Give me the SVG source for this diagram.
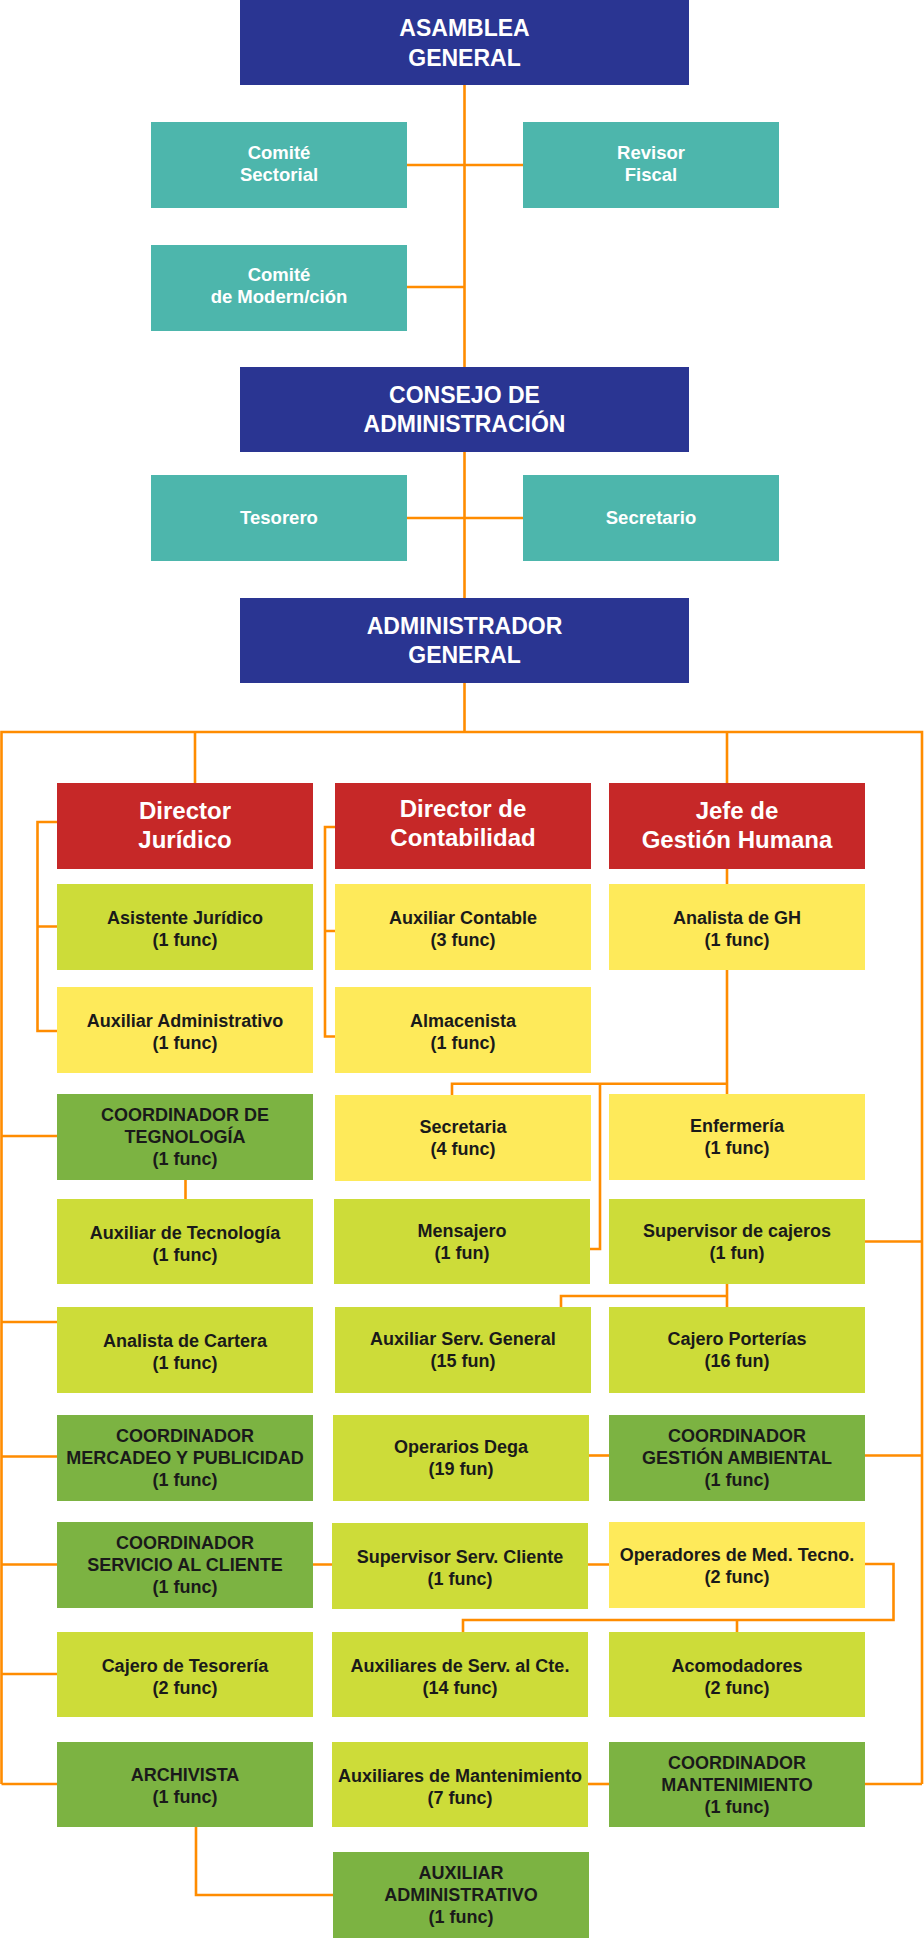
<svg xmlns="http://www.w3.org/2000/svg" width="924" height="1938" viewBox="0 0 924 1938">
<style>
text{font-family:"Liberation Sans",Arial,sans-serif;font-weight:bold;text-anchor:middle}
.navy{fill:#2A3592}
.teal{fill:#4DB6AC}
.red{fill:#C62828}
.lime{fill:#CDDC39}
.yel{fill:#FEEA5A}
.grn{fill:#7CB342}
.tn{fill:#fff;font-size:23px}
.tr{fill:#fff;font-size:24px}
.tt{fill:#fff;font-size:18.5px}
.ts{fill:#1a1a1a;font-size:18px}
.ln{fill:none;stroke:#FF8C00;stroke-width:2.6}
</style>
<rect width="924" height="1938" fill="#fff"/>
<g id="connectors" class="ln">
<path d="M464.5,85V732"/>
<path d="M407,165H523"/>
<path d="M407,287H464.5"/>
<path d="M407,518H523"/>
<path d="M1.5,1784V732H922V1784"/>
<path d="M195,732V783"/>
<path d="M727,732V783"/>
<path d="M57,822H37.5V1031H57M37.5,926.5H57"/>
<path d="M335,827H325V1036.5H335M325,931H335"/>
<path d="M727,869V884"/>
<path d="M727,970V1094"/>
<path d="M452,1095V1083.7H727"/>
<path d="M600,1083.7V1249H590"/>
<path d="M185.5,1180V1199"/>
<path d="M1.5,1136H57M1.5,1322H57M1.5,1456.5H57M1.5,1564.5H57M1.5,1674H57M1.5,1784H57"/>
<path d="M865,1241.5H922M865,1455.5H922M865,1784H922"/>
<path d="M727,1284V1307M561,1307V1296H727"/>
<path d="M589,1455.5H609"/>
<path d="M313,1564.5H332M588,1564.5H609"/>
<path d="M865,1564H893.5V1620H463V1632M737,1620V1632"/>
<path d="M588,1784H609"/>
<path d="M196,1827V1895H333"/>
</g>
<g id="asamblea"><rect class="navy" x="240" y="0" width="449" height="85"/><text class="tn" x="464.5" y="36">ASAMBLEA</text><text class="tn" x="464.5" y="66">GENERAL</text></g>
<g id="comite-sectorial"><rect class="teal" x="151" y="122" width="256" height="86"/><text class="tt" x="279" y="159">Comité</text><text class="tt" x="279" y="181">Sectorial</text></g>
<g id="revisor-fiscal"><rect class="teal" x="523" y="122" width="256" height="86"/><text class="tt" x="651" y="159">Revisor</text><text class="tt" x="651" y="181">Fiscal</text></g>
<g id="comite-modern"><rect class="teal" x="151" y="245" width="256" height="86"/><text class="tt" x="279" y="281">Comité</text><text class="tt" x="279" y="303">de Modern/ción</text></g>
<g id="consejo"><rect class="navy" x="240" y="367" width="449" height="85"/><text class="tn" x="464.5" y="403">CONSEJO DE</text><text class="tn" x="464.5" y="432">ADMINISTRACIÓN</text></g>
<g id="tesorero"><rect class="teal" x="151" y="475" width="256" height="86"/><text class="tt" x="279" y="524">Tesorero</text></g>
<g id="secretario"><rect class="teal" x="523" y="475" width="256" height="86"/><text class="tt" x="651" y="524">Secretario</text></g>
<g id="administrador"><rect class="navy" x="240" y="598" width="449" height="85"/><text class="tn" x="464.5" y="634">ADMINISTRADOR</text><text class="tn" x="464.5" y="663">GENERAL</text></g>
<g id="director-juridico"><rect class="red" x="57" y="783" width="256" height="86"/><text class="tr" x="185" y="819">Director</text><text class="tr" x="185" y="848">Jurídico</text></g>
<g id="director-contabilidad"><rect class="red" x="335" y="783" width="256" height="86"/><text class="tr" x="463" y="817">Director de</text><text class="tr" x="463" y="846">Contabilidad</text></g>
<g id="jefe-gh"><rect class="red" x="609" y="783" width="256" height="86"/><text class="tr" x="737" y="819">Jefe de</text><text class="tr" x="737" y="848">Gestión Humana</text></g>
<g id="asistente-juridico"><rect class="lime" x="57" y="884" width="256" height="86"/><text class="ts" x="185" y="924">Asistente Jurídico</text><text class="ts" x="185" y="946">(1 func)</text></g>
<g id="auxiliar-contable"><rect class="yel" x="335" y="884" width="256" height="86"/><text class="ts" x="463" y="924">Auxiliar Contable</text><text class="ts" x="463" y="946">(3 func)</text></g>
<g id="analista-gh"><rect class="yel" x="609" y="884" width="256" height="86"/><text class="ts" x="737" y="924">Analista de GH</text><text class="ts" x="737" y="946">(1 func)</text></g>
<g id="auxiliar-administrativo-1"><rect class="yel" x="57" y="987" width="256" height="86"/><text class="ts" x="185" y="1027">Auxiliar Administrativo</text><text class="ts" x="185" y="1049">(1 func)</text></g>
<g id="almacenista"><rect class="yel" x="335" y="987" width="256" height="86"/><text class="ts" x="463" y="1027">Almacenista</text><text class="ts" x="463" y="1049">(1 func)</text></g>
<g id="coord-tecnologia"><rect class="grn" x="57" y="1094" width="256" height="86"/><text class="ts" x="185" y="1121">COORDINADOR DE</text><text class="ts" x="185" y="1143">TEGNOLOGÍA</text><text class="ts" x="185" y="1165">(1 func)</text></g>
<g id="secretaria"><rect class="yel" x="335" y="1095" width="256" height="86"/><text class="ts" x="463" y="1133">Secretaria</text><text class="ts" x="463" y="1155">(4 func)</text></g>
<g id="enfermeria"><rect class="yel" x="609" y="1094" width="256" height="86"/><text class="ts" x="737" y="1132">Enfermería</text><text class="ts" x="737" y="1154">(1 func)</text></g>
<g id="auxiliar-tecnologia"><rect class="lime" x="57" y="1199" width="256" height="85"/><text class="ts" x="185" y="1239">Auxiliar de Tecnología</text><text class="ts" x="185" y="1261">(1 func)</text></g>
<g id="mensajero"><rect class="lime" x="334" y="1199" width="256" height="85"/><text class="ts" x="462" y="1237">Mensajero</text><text class="ts" x="462" y="1259">(1 fun)</text></g>
<g id="supervisor-cajeros"><rect class="lime" x="609" y="1199" width="256" height="85"/><text class="ts" x="737" y="1237">Supervisor de cajeros</text><text class="ts" x="737" y="1259">(1 fun)</text></g>
<g id="analista-cartera"><rect class="lime" x="57" y="1307" width="256" height="86"/><text class="ts" x="185" y="1347">Analista de Cartera</text><text class="ts" x="185" y="1369">(1 func)</text></g>
<g id="auxiliar-serv-general"><rect class="lime" x="335" y="1307" width="256" height="86"/><text class="ts" x="463" y="1345">Auxiliar Serv. General</text><text class="ts" x="463" y="1367">(15 fun)</text></g>
<g id="cajero-porterias"><rect class="lime" x="609" y="1307" width="256" height="86"/><text class="ts" x="737" y="1345">Cajero Porterías</text><text class="ts" x="737" y="1367">(16 fun)</text></g>
<g id="coord-mercadeo"><rect class="grn" x="57" y="1415" width="256" height="86"/><text class="ts" x="185" y="1442">COORDINADOR</text><text class="ts" x="185" y="1464">MERCADEO Y PUBLICIDAD</text><text class="ts" x="185" y="1486">(1 func)</text></g>
<g id="operarios-dega"><rect class="lime" x="333" y="1415" width="256" height="86"/><text class="ts" x="461" y="1453">Operarios Dega</text><text class="ts" x="461" y="1475">(19 fun)</text></g>
<g id="coord-gestion-ambiental"><rect class="grn" x="609" y="1415" width="256" height="86"/><text class="ts" x="737" y="1442">COORDINADOR</text><text class="ts" x="737" y="1464">GESTIÓN AMBIENTAL</text><text class="ts" x="737" y="1486">(1 func)</text></g>
<g id="coord-servicio-cliente"><rect class="grn" x="57" y="1522" width="256" height="86"/><text class="ts" x="185" y="1549">COORDINADOR</text><text class="ts" x="185" y="1571">SERVICIO AL CLIENTE</text><text class="ts" x="185" y="1593">(1 func)</text></g>
<g id="supervisor-serv-cliente"><rect class="lime" x="332" y="1523" width="256" height="86"/><text class="ts" x="460" y="1563">Supervisor Serv. Cliente</text><text class="ts" x="460" y="1585">(1 func)</text></g>
<g id="operadores-med-tecno"><rect class="yel" x="609" y="1522" width="256" height="86"/><text class="ts" x="737" y="1561">Operadores de Med. Tecno.</text><text class="ts" x="737" y="1583">(2 func)</text></g>
<g id="cajero-tesoreria"><rect class="lime" x="57" y="1632" width="256" height="85"/><text class="ts" x="185" y="1672">Cajero de Tesorería</text><text class="ts" x="185" y="1694">(2 func)</text></g>
<g id="auxiliares-serv-cte"><rect class="lime" x="332" y="1632" width="256" height="85"/><text class="ts" x="460" y="1672">Auxiliares de Serv. al Cte.</text><text class="ts" x="460" y="1694">(14 func)</text></g>
<g id="acomodadores"><rect class="lime" x="609" y="1632" width="256" height="85"/><text class="ts" x="737" y="1672">Acomodadores</text><text class="ts" x="737" y="1694">(2 func)</text></g>
<g id="archivista"><rect class="grn" x="57" y="1742" width="256" height="85"/><text class="ts" x="185" y="1781">ARCHIVISTA</text><text class="ts" x="185" y="1803">(1 func)</text></g>
<g id="auxiliares-mantenimiento"><rect class="lime" x="332" y="1742" width="256" height="85"/><text class="ts" x="460" y="1782">Auxiliares de Mantenimiento</text><text class="ts" x="460" y="1804">(7 func)</text></g>
<g id="coord-mantenimiento"><rect class="grn" x="609" y="1742" width="256" height="85"/><text class="ts" x="737" y="1769">COORDINADOR</text><text class="ts" x="737" y="1791">MANTENIMIENTO</text><text class="ts" x="737" y="1813">(1 func)</text></g>
<g id="auxiliar-administrativo-2"><rect class="grn" x="333" y="1852" width="256" height="86"/><text class="ts" x="461" y="1879">AUXILIAR</text><text class="ts" x="461" y="1901">ADMINISTRATIVO</text><text class="ts" x="461" y="1923">(1 func)</text></g>
</svg>
